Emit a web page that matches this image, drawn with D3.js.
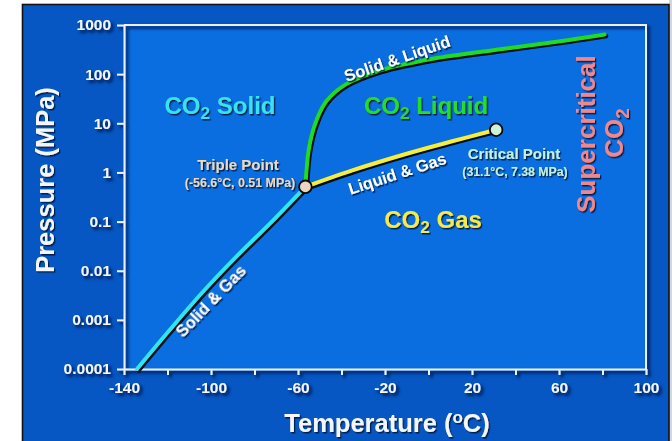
<!DOCTYPE html>
<html><head><meta charset="utf-8">
<script src="https://cdn.jsdelivr.net/npm/d3@7/dist/d3.min.js"></script>
<style>
html,body{margin:0;padding:0;background:#fff;}
svg{display:block;font-family:"Liberation Sans",Arial,sans-serif;font-weight:bold;}
</style></head><body>
<svg id="chart" width="672" height="441"></svg>
<script>
// Temperature axis (°C)
const tempTicks = [-140,-120,-100,-80,-60,-40,-20,0,20,40,60,80,100];
const tempLabels = ["-140","","-100","","-60","","-20","","20","","60","","100"];
// Pressure axis (MPa), logarithmic
const pressureTicks = [0.0001,0.001,0.01,0.1,1,10,100,1000];
const pressureLabels = ["0.0001","0.001","0.01","0.1","1","10","100","1000"];

// Phase boundaries: temperature (°C) and pressure (MPa)
const solidGasT = [-134,-119,-104,-88,-72,-56.6];
const solidGasP = [0.0001,0.00062,0.0036,0.02,0.1,0.51];
const solidLiquidT = [-56.6,-55,-52,-47,-38,-22,2,33,64,81];
const solidLiquidP = [0.51,3,10,28,62,120,205,320,490,640];
const liquidGasT = [-56.6,-35,-10,10,31.1];
const liquidGasP = [0.51,1.1,2.4,4.2,7.38];

const triplePoint = {t:-56.6, p:0.51};
const criticalPoint = {t:31.1, p:7.38};

const svg = d3.select("#chart");
const W = 672, H = 441;
const plot = {left:124, right:646, top:25, bottom:369};

const x = d3.scaleLinear().domain([-140,100]).range([plot.left, plot.right]);
const y = d3.scaleLog().domain([1e-4,1e3]).range([plot.bottom, plot.top]);

// filters: soft dark shadow for text and frame
const defs = svg.append("defs");
const fs = defs.append("filter").attr("id","txtShadow").attr("x","-20%").attr("y","-30%").attr("width","150%").attr("height","170%");
fs.append("feDropShadow").attr("dx",1.3).attr("dy",1.5).attr("stdDeviation",0.7)
  .attr("flood-color","#00123a").attr("flood-opacity",0.9);
const ff = defs.append("filter").attr("id","frameShadow").attr("x","-10%").attr("y","-10%").attr("width","125%").attr("height","125%");
ff.append("feDropShadow").attr("dx",2.5).attr("dy",2.5).attr("stdDeviation",1.5)
  .attr("flood-color","#001030").attr("flood-opacity",0.9);

// outer panel
svg.append("rect").attr("x",669).attr("y",0).attr("width",3).attr("height",H).attr("fill","#d4d6da");
svg.append("rect").attr("x",22.5).attr("y",4.5).attr("width",646.5).attr("height",H+10)
  .attr("fill","#0657c3").attr("stroke","#121212").attr("stroke-width",1.6);

// plot area
svg.append("rect").attr("x",plot.left).attr("y",plot.top)
  .attr("width",plot.right-plot.left).attr("height",plot.bottom-plot.top)
  .attr("fill","#0a6de0");

// frame and axes
const frame = svg.append("g").attr("filter","url(#frameShadow)");
const frameColor = "#eaf1ff";
frame.append("path")
  .attr("d",`M${plot.left},${plot.top}H${plot.right}V${plot.bottom}`)
  .attr("fill","none").attr("stroke",frameColor).attr("stroke-width",2);

const gx = frame.append("g").attr("transform",`translate(0,${plot.bottom})`)
  .call(d3.axisBottom(x).tickValues(tempTicks).tickFormat((d,i)=>tempLabels[i])
    .tickSize(6).tickPadding(7).tickSizeOuter(0));
const gy = frame.append("g").attr("transform",`translate(${plot.left},0)`)
  .call(d3.axisLeft(y).tickValues(pressureTicks).tickFormat((d,i)=>pressureLabels[i])
    .tickSize(7).tickPadding(6).tickSizeOuter(0));
[gx,gy].forEach(g=>{
  g.select(".domain").attr("stroke",frameColor).attr("stroke-width",2);
  g.selectAll(".tick line").attr("stroke",frameColor).attr("stroke-width",2);
  g.selectAll(".tick text").attr("fill","#f4f6fa").attr("font-size",15.5)
    .attr("font-family","Liberation Sans, Arial, sans-serif").attr("font-weight","bold");
});

// phase boundary curves
const line = d3.line().x(d=>x(d[0])).y(d=>y(d[1])).curve(d3.curveCatmullRom.alpha(0.5));
const curves = [
  {t:solidGasT, p:solidGasP, color:"#2ee6f4"},
  {t:liquidGasT, p:liquidGasP, color:"#f6ee3a"},
  {t:solidLiquidT, p:solidLiquidP, color:"#1fdc22"}
];
curves.forEach(c=>{
  const pts = c.t.map((t,i)=>[t,c.p[i]]);
  svg.append("path").attr("d",line(pts)).attr("fill","none")
    .attr("stroke","#050a14").attr("stroke-width",4.5).attr("stroke-linecap","round")
    .attr("transform","translate(1.4,1.6)");
  svg.append("path").attr("d",line(pts)).attr("fill","none")
    .attr("stroke",c.color).attr("stroke-width",4).attr("stroke-linecap","round");
});

// triple and critical points
[[triplePoint,"#e9d6c2"],[criticalPoint,"#cdf3d6"]].forEach(([pt,fill])=>{
  svg.append("circle").attr("cx",x(pt.t)).attr("cy",y(pt.p)).attr("r",6.3)
    .attr("fill",fill).attr("stroke","#0a0a0a").attr("stroke-width",1.8);
});

const txt = svg.append("g").attr("filter","url(#txtShadow)");

function label(s, px, py, size, color, rot, anchor){
  return txt.append("text").attr("transform",`translate(${px},${py}) rotate(${rot||0})`)
    .attr("text-anchor",anchor||"middle").attr("font-size",size).attr("fill",color).text(s);
}
// "CO2 xxx" region labels with subscript 2
function coLabel(rest, px, py, size, color, rot){
  const t = txt.append("text").attr("transform",`translate(${px},${py}) rotate(${rot||0})`)
    .attr("text-anchor","middle").attr("font-size",size).attr("fill",color);
  t.append("tspan").text("CO");
  t.append("tspan").attr("font-size",size*0.72).attr("dy",size*0.22).text("2");
  if(rest) t.append("tspan").attr("dy",-size*0.22).text(" "+rest);
  return t;
}

coLabel("Solid", 220, 114, 24, "#38e2ef");
coLabel("Liquid", 426, 114, 24, "#26dc26");
coLabel("Gas", 433, 228, 24, "#f6ea44");

// curve names
label("Solid & Liquid", 399, 64, 16.5, "#ffffff", -19);
label("Liquid  & Gas", 399, 179, 16.5, "#ffffff", -18);
label("Solid & Gas", 215, 305, 16.5, "#ffffff", -46);

// point annotations
label("Triple Point", 238, 170, 15, "#ecd9be");
label("(-56.6°C, 0.51 MPa)", 240, 187, 12.4, "#ecd9be");
label("Critical Point", 514, 159, 15, "#c6f1e0");
label("(31.1°C, 7.38 MPa)", 515, 176, 12.3, "#c6f1e0");

// supercritical region
label("Supercritical", 595, 134, 26, "#f2878b", -90);
coLabel("", 623, 133, 26, "#f2878b", -90);

// axis titles
label("Pressure (MPa)", 54, 180, 25.5, "#f4f6fa", -90);
const tt = txt.append("text").attr("transform","translate(387,432)")
  .attr("text-anchor","middle").attr("font-size",25.5).attr("fill","#f4f6fa");
tt.append("tspan").text("Temperature (");
tt.append("tspan").attr("font-size",17).attr("dy",-9).text("o");
tt.append("tspan").attr("dy",9).text("C)");
</script>
</body></html>
